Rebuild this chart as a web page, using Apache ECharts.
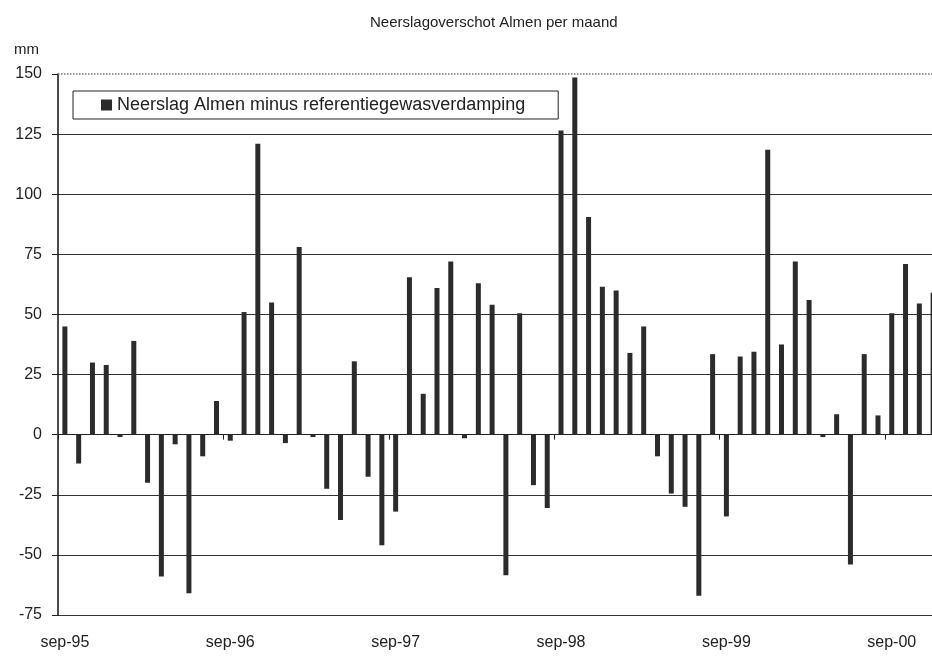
<!DOCTYPE html>
<html>
<head>
<meta charset="utf-8">
<script src="https://cdn.jsdelivr.net/npm/echarts@6/dist/echarts.min.js"></script>
<style>html,body{margin:0;padding:0;background:#fff;overflow:hidden}#c{width:940px;height:656px}</style>
</head>
<body>
<div id="c"></div>
<script>
const categories = [
  "sep-95","okt-95","nov-95","dec-95","jan-96","feb-96","mrt-96","apr-96","mei-96","jun-96","jul-96","aug-96",
  "sep-96","okt-96","nov-96","dec-96","jan-97","feb-97","mrt-97","apr-97","mei-97","jun-97","jul-97","aug-97",
  "sep-97","okt-97","nov-97","dec-97","jan-98","feb-98","mrt-98","apr-98","mei-98","jun-98","jul-98","aug-98",
  "sep-98","okt-98","nov-98","dec-98","jan-99","feb-99","mrt-99","apr-99","mei-99","jun-99","jul-99","aug-99",
  "sep-99","okt-99","nov-99","dec-99","jan-00","feb-00","mrt-00","apr-00","mei-00","jun-00","jul-00","aug-00",
  "sep-00","okt-00","nov-00","dec-00"
];
const surplus = [
  45, -12, 30, 29, -1, 39, -20, -59, -4, -66, -9, 14,
  -2.5, 51, 121, 55, -3.5, 78, -1, -22.5, -35.5, 30.5, -17.5, -46,
  -32, 65.5, 17, 61, 72, -1.5, 63, 54, -58.5, 50.5, -21, -30.5,
  126.5, 148.5, 90.5, 61.5, 60, 34, 45, -9, -24.5, -30, -67, 33.5,
  -34, 32.5, 34.5, 118.5, 37.5, 72, 56, -1, 8.5, -54, 33.5, 8,
  50.5, 71, 54.5, 59
];
const yTicks = { min: -75, max: 150, step: 25 };
const seriesName = "Neerslag Almen minus referentiegewasverdamping";

const chart = echarts.init(document.getElementById('c'), null, { renderer: 'canvas' });
const font = 'Liberation Sans, Arial, sans-serif';
chart.setOption({
  animation: false,
  backgroundColor: '#fff',
  title: [
    { text: 'Neerslagoverschot Almen per maand', left: 365, top: 10,
      textStyle: { fontFamily: font, fontSize: 15, fontWeight: 'normal', color: '#222' } },
    { text: 'mm', left: 9, top: 37,
      textStyle: { fontFamily: font, fontSize: 15, fontWeight: 'normal', color: '#222' } }
  ],
  legend: {
    left: 73, top: 91,
    padding: [5, 33, 5, 28],
    borderColor: '#222', borderWidth: 1,
    backgroundColor: '#fff',
    itemWidth: 11, itemHeight: 11, itemGap: 6,
    icon: 'rect',
    textStyle: { fontFamily: font, fontSize: 18, color: '#222' },
    data: [seriesName]
  },
  grid: { left: 58, right: 0, top: 74, bottom: 41, containLabel: false },
  xAxis: {
    type: 'category',
    data: categories,
    boundaryGap: true,
    axisLine: { show: true, lineStyle: { color: '#222', width: 1 } },
    axisTick: { show: true, interval: 11, length: 5, lineStyle: { color: '#222' } },
    axisLabel: { interval: 11, margin: 20, fontFamily: font, fontSize: 16, color: '#222' },
    splitLine: { show: false }
  },
  yAxis: {
    type: 'value',
    min: yTicks.min, max: yTicks.max, interval: yTicks.step,
    axisLine: { show: true, lineStyle: { color: '#111', width: 1.5 } },
    axisTick: { show: true, length: 6, lineStyle: { color: '#222' } },
    axisLabel: { margin: 16, fontFamily: font, fontSize: 16, color: '#222' },
    splitLine: { show: true, lineStyle: { color: ['#333','#333','#333','#333','#333','#333','#333','#333','#333','rgba(0,0,0,0)'], width: 1 } }
  },
  series: [{
    name: seriesName,
    type: 'bar',
    data: surplus,
    barWidth: 5,
    itemStyle: { color: '#2b2b2b' },
    markLine: {
      silent: true, symbol: 'none', label: { show: false },
      lineStyle: { type: 'dotted', color: '#777', width: 1.5 },
      data: [{ yAxis: 150 }]
    }
  }]
});
</script>
</body>
</html>
